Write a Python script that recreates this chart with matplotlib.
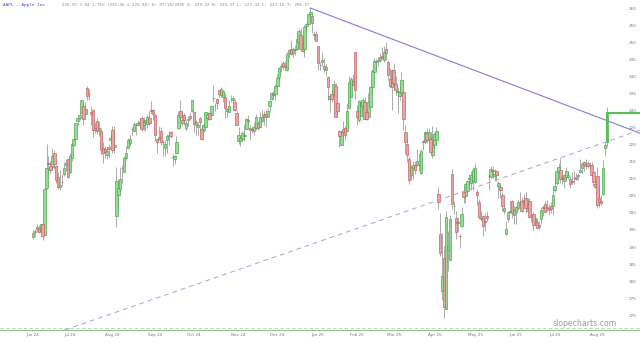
import numpy as np
import pandas as pd
import matplotlib
matplotlib.use("Agg")
import matplotlib.pyplot as plt
from matplotlib.ticker import FixedLocator, NullLocator, FixedFormatter

# ---------------- data (AAPL daily, Jun 2024 - Aug 2025) ----------------
holidays = ["2024-06-19", "2024-07-04", "2024-09-02", "2024-11-28", "2024-12-25",
            "2025-01-01", "2025-01-09", "2025-01-20", "2025-02-17", "2025-04-18",
            "2025-05-26", "2025-06-19", "2025-07-04"]
dates = pd.bdate_range("2024-06-03", "2025-08-08")
dates = dates[~dates.isin(pd.to_datetime(holidays))]

opens = [
    # Jun 2024
    192.9, 194.6, 195.4, 195.7, 194.7, 196.9, 193.6, 207.4, 214.7, 213.9, 213.4, 217.6, 213.9, 210.4, 207.7, 209.2, 211.5, 214.7, 215.8,
    # Jul 2024
    212.1, 216.2, 220.0, 221.7, 227.1, 227.9, 229.3, 231.4, 228.9, 236.5, 235.0, 229.5, 230.3, 224.8, 227.0, 224.4, 224.0, 218.9, 218.7, 216.96, 219.2, 221.4,
    # Aug 2024
    224.4, 219.2, 199.1, 205.3, 206.9, 213.1, 212.1, 216.1, 219.0, 220.6, 224.6, 223.9, 225.7, 225.8, 226.5, 227.8, 225.7, 226.8, 226.0, 227.9, 230.1, 230.2,
    # Sep 2024
    228.6, 221.7, 221.6, 223.95, 220.8, 218.9, 221.5, 222.5, 223.6, 216.5, 215.75, 217.55, 224.99, 229.97, 227.3, 228.6, 224.9, 227.3, 228.5, 230.0,
    # Oct 2024
    229.5, 225.9, 225.1, 227.9, 224.5, 224.3, 225.2, 227.8, 229.3, 228.7, 233.6, 231.6, 233.4, 236.2, 234.45, 233.9, 234.1, 229.98, 229.7, 233.3, 233.1, 232.6, 229.3,
    # Nov 2024
    220.97, 220.99, 221.8, 222.6, 224.6, 227.2, 225.0, 224.55, 224.0, 225.0, 226.4, 225.25, 226.98, 228.1, 228.9, 228.1, 231.5, 233.3, 234.5, 234.8,
    # Dec 2024
    237.3, 239.8, 242.9, 243.99, 242.9, 241.8, 246.9, 247.96, 246.9, 247.8, 247.99, 250.1, 252.2, 247.5, 248.0, 254.8, 255.5, 258.2, 257.8, 252.2, 252.4,
    # Jan 2025
    248.9, 243.4, 244.3, 242.98, 241.9, 240.0, 233.5, 234.75, 234.6, 237.35, 232.1, 224.0, 219.8, 224.7, 224.8, 224.0, 230.85, 234.1, 238.7, 247.2,
    # Feb 2025
    229.99, 227.25, 228.5, 231.3, 232.6, 229.6, 228.2, 231.2, 236.9, 241.25, 244.15, 244.7, 244.9, 245.95, 244.9, 248.0, 244.3, 239.4, 236.95,
    # Mar 2025
    241.8, 237.7, 235.4, 234.4, 235.1, 235.5, 223.8, 220.1, 215.95, 211.25, 213.3, 214.2, 214.2, 213.99, 211.6, 221.0, 220.8, 223.5, 221.4, 221.7, 217.0,
    # Apr 2025
    219.8, 221.3, 205.5, 193.9, 177.2, 186.7, 171.95, 189.1, 186.1, 211.4, 201.9, 198.4, 197.2, 193.3, 196.1, 206.0, 204.9, 206.4, 210.0, 208.7, 209.3,
    # May 2025
    209.1, 206.1, 203.1, 198.2, 199.2, 197.7, 199.0, 210.97, 210.4, 212.4, 210.95, 212.4, 207.9, 207.7, 205.2, 200.7, 193.7, 198.3, 200.6, 203.6, 199.4,
    # Jun 2025
    200.3, 201.35, 202.9, 203.5, 203.0, 204.4, 200.6, 203.5, 199.1, 199.7, 197.3, 197.2, 195.9, 198.2, 201.6, 202.6, 201.45, 201.4, 201.9, 202.0,
    # Jul 2025
    206.7, 208.9, 212.15, 212.7, 210.1, 209.5, 210.5, 210.6, 209.9, 209.2, 210.3, 210.6, 210.9, 212.1, 213.1, 215.0, 213.9, 214.7, 214.0, 214.2, 211.9, 208.5,
    # Aug 2025
    210.9, 204.5, 203.4, 205.6, 218.9, 220.8,
]
highs = [
    194.99, 195.3, 196.9, 196.5, 196.9, 197.3, 207.2, 220.2, 216.75, 215.2, 218.95, 218.6, 214.2, 211.9, 212.7, 211.4, 214.9, 215.7, 216.1,
    217.5, 220.4, 221.6, 226.5, 227.9, 229.4, 233.1, 232.4, 232.4, 237.2, 236.3, 231.5, 230.4, 226.8, 227.8, 226.9, 224.8, 220.9, 219.5, 219.3, 220.3, 223.8,
    225.6, 225.6, 213.5, 209.99, 213.6, 214.2, 216.8, 219.5, 221.9, 223.0, 225.35, 226.8, 225.99, 227.2, 227.98, 228.3, 228.2, 227.3, 228.85, 229.9, 232.9, 230.4,
    229.0, 221.8, 225.5, 225.2, 221.3, 221.5, 223.1, 223.6, 224.0, 217.2, 216.9, 222.7, 229.8, 233.1, 229.45, 229.4, 227.3, 228.5, 229.5, 233.0,
    229.65, 227.4, 226.8, 228.0, 225.7, 225.98, 229.75, 229.5, 229.4, 231.7, 237.5, 232.1, 233.85, 236.2, 236.85, 236.2, 235.1, 230.8, 233.2, 234.7, 234.3, 233.5, 229.8,
    225.35, 222.8, 223.95, 226.1, 227.9, 228.7, 225.7, 225.6, 226.65, 228.9, 226.9, 229.7, 230.2, 229.9, 230.2, 230.7, 233.25, 235.6, 235.7, 237.8,
    240.8, 242.8, 244.1, 244.5, 244.6, 247.2, 248.2, 250.8, 248.7, 249.3, 251.4, 253.8, 254.3, 252.0, 255.0, 255.65, 258.2, 260.1, 258.7, 253.5, 253.5,
    249.1, 244.2, 247.3, 245.55, 243.7, 240.2, 234.7, 236.2, 238.96, 238.0, 232.3, 224.4, 224.1, 227.0, 225.6, 232.15, 240.2, 239.9, 240.8, 247.2,
    231.8, 233.1, 232.7, 233.8, 234.0, 230.6, 235.2, 236.96, 242.3, 245.55, 245.2, 245.7, 246.8, 248.7, 248.86, 250.0, 244.9, 242.4, 242.1,
    244.0, 240.1, 236.55, 237.1, 241.4, 236.2, 225.8, 221.75, 216.8, 213.95, 215.2, 215.15, 218.8, 217.5, 218.8, 221.5, 224.1, 225.0, 224.99, 223.8, 225.6,
    223.7, 225.2, 207.5, 199.9, 194.15, 190.3, 200.6, 194.8, 199.5, 212.9, 203.5, 200.7, 198.8, 193.8, 201.6, 208.0, 208.8, 209.75, 211.5, 212.2, 213.6,
    214.6, 206.99, 204.1, 200.65, 199.4, 200.05, 200.5, 211.3, 213.9, 213.9, 212.96, 212.6, 209.5, 208.6, 206.2, 202.75, 197.7, 200.7, 203.8, 203.8, 201.96,
    201.96, 203.8, 206.2, 204.75, 205.7, 206.0, 204.35, 204.5, 199.7, 200.4, 198.7, 198.4, 197.6, 201.7, 202.3, 203.4, 203.7, 202.6, 203.2, 207.4,
    210.2, 213.3, 214.65, 216.2, 211.4, 211.3, 213.5, 212.1, 210.9, 211.9, 212.4, 211.8, 211.8, 215.8, 214.95, 215.15, 215.7, 215.2, 214.85, 214.8, 212.4, 209.8,
    213.6, 207.9, 205.3, 215.4, 220.85, 231.0,
]
lows = [
    192.5, 193.0, 194.5, 194.1, 194.1, 192.2, 193.6, 206.9, 211.6, 211.6, 212.7, 213.0, 208.9, 207.1, 206.6, 207.8, 210.7, 212.4, 210.3,
    211.8, 215.1, 219.7, 221.7, 225.8, 227.3, 229.2, 225.8, 228.7, 233.1, 233.1, 225.8, 222.3, 223.3, 223.1, 222.7, 217.1, 214.6, 216.0, 215.8, 216.1, 220.6,
    217.7, 217.7, 196.0, 201.1, 206.4, 208.8, 211.97, 215.6, 219.0, 219.7, 222.8, 223.65, 223.0, 225.4, 225.05, 223.9, 224.3, 223.9, 224.9, 225.7, 228.9, 227.2,
    221.2, 217.5, 221.5, 219.8, 216.7, 216.7, 217.6, 219.8, 221.9, 213.9, 214.4, 217.5, 224.6, 227.6, 225.8, 225.9, 224.0, 225.4, 227.3, 229.65,
    223.7, 223.0, 223.0, 224.1, 221.3, 223.7, 225.2, 227.2, 227.3, 228.6, 232.4, 229.8, 230.5, 234.0, 234.0, 232.6, 227.8, 228.0, 229.6, 232.6, 232.3, 229.8, 225.7,
    220.3, 219.7, 221.1, 221.2, 224.6, 226.4, 221.5, 223.4, 222.8, 224.3, 224.3, 225.2, 226.7, 225.9, 225.2, 228.1, 229.7, 233.0, 233.8, 233.2,
    237.2, 238.9, 241.25, 241.9, 241.75, 241.75, 245.3, 246.3, 245.7, 246.2, 247.65, 249.8, 247.7, 247.1, 245.7, 253.45, 255.3, 257.6, 252.7, 250.75, 250.75,
    241.8, 241.9, 243.2, 241.35, 240.05, 233.0, 229.7, 232.6, 234.4, 228.0, 228.2, 219.4, 219.8, 222.3, 221.5, 223.98, 230.8, 234.1, 237.2, 233.4,
    225.7, 226.65, 228.3, 230.4, 227.3, 227.2, 228.1, 230.7, 235.6, 240.99, 241.8, 243.2, 244.3, 245.2, 244.4, 244.9, 239.1, 236.7, 230.2,
    236.1, 234.7, 229.2, 233.2, 234.2, 224.2, 217.4, 214.9, 208.4, 209.6, 209.97, 211.5, 213.75, 212.2, 211.3, 218.6, 220.1, 220.5, 220.6, 217.7, 216.2,
    218.9, 220.2, 201.25, 187.3, 174.6, 169.2, 171.9, 183.0, 186.1, 201.2, 199.8, 192.4, 194.4, 189.8, 195.97, 202.8, 202.9, 206.2, 207.5, 206.7, 206.7,
    208.9, 202.2, 198.2, 197.5, 193.25, 194.7, 197.5, 206.75, 210.2, 210.2, 209.5, 209.5, 204.3, 204.3, 200.6, 199.7, 193.5, 197.4, 200.0, 198.5, 196.8,
    196.8, 200.95, 202.1, 200.2, 202.05, 200.0, 200.6, 198.4, 197.4, 195.1, 196.6, 195.2, 195.2, 196.9, 198.96, 200.2, 200.6, 199.5, 200.0, 199.3,
    206.1, 208.1, 211.8, 208.8, 208.6, 207.2, 210.0, 209.9, 207.2, 208.6, 208.6, 209.6, 209.7, 211.6, 211.8, 212.4, 213.0, 213.3, 213.1, 210.8, 207.9, 207.2,
    201.5, 201.7, 202.2, 205.35, 216.6, 219.25,
]
closes = [
    194.03, 194.35, 195.87, 194.48, 196.89, 193.12, 207.15, 213.07, 214.24, 212.49, 216.67, 214.29, 209.68, 207.49, 208.14, 209.07, 213.25, 214.10, 210.62,
    216.75, 220.27, 221.55, 226.34, 227.82, 228.68, 232.98, 227.57, 230.54, 234.40, 234.82, 228.88, 224.18, 224.31, 223.96, 225.01, 218.54, 217.49, 217.96, 218.24, 218.80, 222.08,
    218.36, 219.86, 209.27, 207.23, 209.82, 213.31, 216.24, 217.53, 221.27, 221.72, 224.72, 226.05, 225.89, 226.51, 226.40, 224.53, 226.84, 227.18, 228.03, 226.49, 229.79, 229.00,
    222.77, 220.85, 222.38, 220.82, 220.91, 220.11, 222.66, 222.77, 222.50, 216.32, 216.79, 220.69, 228.87, 228.20, 226.47, 227.37, 226.37, 227.52, 227.79, 233.00,
    226.21, 226.78, 225.67, 226.80, 221.69, 225.77, 229.54, 229.04, 227.55, 231.30, 233.85, 231.78, 232.15, 235.00, 236.48, 235.86, 230.76, 230.57, 231.41, 233.40, 233.67, 230.10, 225.91,
    222.91, 222.01, 223.45, 222.72, 227.48, 226.96, 224.23, 224.23, 225.12, 228.22, 224.99, 228.02, 228.28, 229.00, 228.52, 229.87, 232.87, 235.06, 234.93, 237.33,
    239.59, 242.65, 243.01, 243.04, 242.84, 246.75, 247.77, 246.49, 247.96, 248.13, 251.04, 253.48, 248.05, 249.79, 254.49, 255.27, 258.20, 259.02, 255.59, 252.20, 250.42,
    243.85, 243.36, 245.00, 242.21, 242.70, 236.85, 234.40, 233.28, 237.87, 228.26, 229.98, 222.64, 223.83, 223.66, 222.78, 229.86, 238.26, 239.36, 237.59, 236.00,
    228.01, 232.80, 232.47, 233.22, 227.63, 227.65, 232.62, 236.87, 241.53, 244.60, 244.47, 244.87, 245.83, 245.55, 247.10, 247.04, 240.36, 237.30, 241.84,
    238.03, 235.93, 235.74, 235.33, 239.07, 227.48, 220.84, 216.98, 209.68, 213.49, 214.00, 212.69, 215.24, 214.10, 218.27, 220.73, 223.75, 221.53, 223.85, 217.90, 222.13,
    223.19, 223.89, 203.19, 188.38, 181.46, 172.42, 198.85, 190.42, 198.15, 202.52, 202.14, 194.27, 196.98, 193.16, 199.74, 204.60, 208.37, 209.28, 210.14, 211.21, 212.50,
    213.32, 205.35, 198.89, 198.51, 196.25, 197.49, 198.53, 210.79, 212.93, 212.33, 211.45, 211.26, 208.78, 206.86, 202.09, 201.36, 195.27, 200.21, 200.42, 199.95, 200.85,
    201.70, 203.27, 202.82, 200.63, 203.92, 201.45, 202.67, 198.78, 199.20, 196.45, 198.42, 195.64, 196.58, 201.00, 201.50, 200.30, 201.56, 201.00, 201.08, 205.17,
    207.82, 212.44, 213.55, 209.95, 210.01, 211.14, 212.41, 211.16, 208.62, 209.11, 210.16, 210.02, 211.18, 212.48, 214.40, 214.15, 213.76, 213.88, 214.05, 211.27, 209.05, 207.57,
    202.38, 203.35, 202.92, 213.25, 220.03, 229.35,
]

y_ticks = [170, 175, 180, 185, 190, 195, 200, 205, 210, 215, 220, 225, 230,
           235, 240, 245, 250, 255, 260]

# trendlines as (bar index, price) anchors
resistance = [(143, 260.1), (313.0, 223.4)]
support = [(16.5, 165.7), (313.0, 224.3)]

header_sym = "AAPL - Apple Inc"
header_txt = ("225.97 3.94 1.75% (225.06 x 225.88) D: 07/18/2026 O: 229.32 "
              "H: 229.37 L: 223.34 C: 223.16 T: 206.27")

# ---------------- figure ----------------
n = min(len(dates), len(opens), len(highs), len(lows), len(closes))
x = np.arange(n)
o = np.array(opens[:n]); h = np.array(highs[:n]); l = np.array(lows[:n]); c = np.array(closes[:n])

fig = plt.figure(figsize=(6.4, 3.43), dpi=100)
ax = fig.add_axes([0, 13 / 343, 1, 330 / 343])
ax.set_xlim(-17.0, 313.0)
ax.set_ylim(165.67, 262.45)

up = c >= o
g_face, g_edge = "#95dc95", "#45a045"
r_face, r_edge = "#e8a6a6", "#b85c5c"
wick = "#8a8a8a"

ax.vlines(x, l, h, color=wick, lw=0.5, zorder=2)
body_lo = np.minimum(o, c)
body_h = np.maximum(np.abs(c - o), 0.15)
ax.bar(x[up], body_h[up], bottom=body_lo[up], width=1.25,
       color=g_face, edgecolor=g_edge, linewidth=0.45, zorder=3)
ax.bar(x[~up], body_h[~up], bottom=body_lo[~up], width=1.25,
       color=r_face, edgecolor=r_edge, linewidth=0.45, zorder=3)

def extend(pts, x0, x1):
    (xa, ya), (xb, yb) = pts
    k = (yb - ya) / (xb - xa)
    xs = np.array([x0, x1])
    return xs, ya + k * (xs - xa)

xs, ys = extend(resistance, resistance[0][0], 313)
ax.plot(xs, ys, color="#7c7fd6", lw=0.8, zorder=4)
xs, ys = extend(support, support[0][0], 313)
ax.plot(xs, ys, color="#b79ad8", lw=0.7, ls=(0, (5, 4)), zorder=4)

# last price line
ax.plot([x[-1], 313], [c[-1], c[-1]], color="#58c058", lw=1.5, zorder=5)
ax.vlines(x[-1], o[-1], c[-1], color="#58c058", lw=1.5, zorder=5)

# bottom lines
ax.axhline(166.3, color="#b8c8b8", lw=0.6, ls=(0, (4, 3)), zorder=1)
for s in ["top", "left", "right"]:
    ax.spines[s].set_visible(False)
ax.spines["bottom"].set_color("#8cc88c")
ax.spines["bottom"].set_linewidth(0.8)

# y ticks inside on the right
ax.yaxis.set_ticks_position("right")
ax.yaxis.set_major_locator(FixedLocator(y_ticks))
ax.yaxis.set_minor_locator(NullLocator())
ax.yaxis.set_major_formatter(FixedFormatter([str(v) for v in y_ticks]))
ax.tick_params(axis="y", which="both", length=0, pad=-8, labelsize=3, labelcolor="#777777")

# x ticks: first trading day of each month
months = pd.Series(np.arange(n), index=dates[:n])
firsts = months.groupby([dates[:n].year, dates[:n].month]).first().values
labels = [dates[i].strftime("%b %y") for i in firsts]
ax.xaxis.set_major_locator(FixedLocator(firsts))
ax.xaxis.set_minor_locator(NullLocator())
ax.xaxis.set_major_formatter(FixedFormatter(labels))
ax.tick_params(axis="x", length=0, pad=2, labelsize=3, labelcolor="#777777")

# header
fig.text(3 / 640, 1 - 5 / 343, header_sym, fontsize=3.2, color="#3355cc",
         family="DejaVu Sans Mono", va="center", ha="left")
fig.text(62 / 640, 1 - 5 / 343, header_txt, fontsize=3.0, color="#888888",
         family="DejaVu Sans Mono", va="center", ha="left")

# watermark
fig.text(585 / 640, 1 - 323 / 343, "slopecharts.com", fontsize=5.6, color="#999999",
         ha="center", va="center")

fig.savefig("out.png", dpi=100, facecolor="white")
